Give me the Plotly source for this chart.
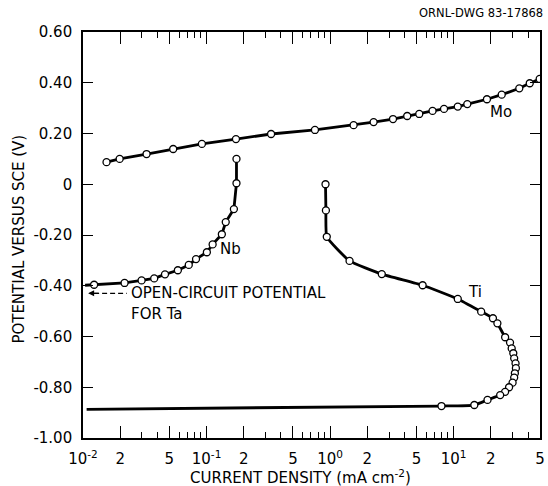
import numpy as np
import plotly.graph_objects as go

# ---- data (current density in mA/cm^2, potential in V vs SCE) ----
mo_i = [0.0155, 0.0198, 0.0327, 0.0537, 0.0917, 0.173, 0.333, 0.754, 1.55, 2.25,
        3.23, 4.21, 5.27, 6.75, 8.36, 10.8, 12.9, 18.6, 24.5, 34.0, 41.3, 49.7]
mo_v = [0.087, 0.100, 0.119, 0.139, 0.159, 0.178, 0.198, 0.214, 0.233, 0.245,
        0.257, 0.269, 0.277, 0.289, 0.297, 0.306, 0.316, 0.335, 0.353, 0.378, 0.398, 0.415]

nb_i = [0.0123, 0.0217, 0.0298, 0.0377, 0.0461, 0.0586, 0.0718, 0.0822, 0.1006,
        0.112, 0.133, 0.143, 0.1665, 0.1747, 0.1747]
nb_v = [-0.396, -0.389, -0.379, -0.371, -0.355, -0.339, -0.318, -0.295, -0.268,
        -0.237, -0.197, -0.149, -0.098, 0.004, 0.100]
nb_line_start_i = [0.0104]
nb_line_start_v = [-0.398]

ti_i = [0.918, 0.925, 0.94, 1.437, 2.62, 5.61, 10.8, 16.7, 20.8, 22.6, 26.1, 28.6,
        29.5, 30.4, 30.9, 31.7, 31.9, 31.3, 30.9, 30.0, 28.1, 26.1, 23.8, 18.8, 14.7, 7.97]
ti_v = [0.000, -0.103, -0.207, -0.302, -0.354, -0.398, -0.452, -0.502, -0.528, -0.548,
        -0.603, -0.624, -0.647, -0.666, -0.686, -0.706, -0.725, -0.745, -0.762, -0.782,
        -0.800, -0.818, -0.831, -0.850, -0.870, -0.874]
ti_tail_i = [0.0107]          # unmarked continuation of the Ti curve to the left
ti_tail_v = [-0.887]

ta_ocp_v = -0.430            # open-circuit potential for Ta

x_tickvals = [0.01, 0.02, 0.05, 0.1, 0.2, 0.5, 1, 2, 5, 10, 20, 50]
x_ticktext = ["10<sup>-2</sup>", "2", "5", "10<sup>-1</sup>", "2", "5",
              "10<sup>0</sup>", "2", "5", "10<sup>1</sup>", "2", "5"]
x_minorvals = [m * d for d in (0.01, 0.1, 1, 10) for m in (3, 4, 6, 7, 8, 9) if m * d < 50]
y_tickvals = [0.6, 0.4, 0.2, 0.0, -0.2, -0.4, -0.6, -0.8, -1.0]
y_ticktext = ["0.60", "0.40", "0.20", "0", "-0.20", "-0.40", "-0.60", "-0.80", "-1.00"]

FONT = "DejaVu Sans, Verdana, sans-serif"
LW = 2.8
marker = dict(symbol="circle", size=7, color="white", line=dict(color="black", width=1.3))

fig = go.Figure()
# Mo
fig.add_trace(go.Scatter(x=mo_i, y=mo_v, mode="lines+markers",
                         line=dict(color="black", width=LW), marker=marker))
# Nb
fig.add_trace(go.Scatter(x=nb_line_start_i + nb_i, y=nb_line_start_v + nb_v, mode="lines",
                         line=dict(color="black", width=LW)))
fig.add_trace(go.Scatter(x=nb_i, y=nb_v, mode="markers", marker=marker))
# Ti
fig.add_trace(go.Scatter(x=ti_i + ti_tail_i, y=ti_v + ti_tail_v, mode="lines",
                         line=dict(color="black", width=LW, shape="spline", smoothing=0.4)))
fig.add_trace(go.Scatter(x=ti_i, y=ti_v, mode="markers", marker=marker))

ann_font = dict(family=FONT, size=15, color="black")
annotations = [
    dict(x=np.log10(24.0), y=0.285, text="Mo", showarrow=False, font=ann_font),
    dict(x=np.log10(0.157), y=-0.255, text="Nb", showarrow=False, font=ann_font),
    dict(x=np.log10(15.0), y=-0.426, text="Ti", showarrow=False, font=ann_font),
    dict(x=np.log10(0.0236), y=ta_ocp_v, text="OPEN-CIRCUIT POTENTIAL", showarrow=False,
         xanchor="left", yanchor="middle", font=ann_font),
    dict(x=np.log10(0.0236), y=ta_ocp_v - 0.083, text="FOR Ta", showarrow=False,
         xanchor="left", yanchor="middle", font=ann_font),
    # arrow head
    dict(x=np.log10(0.0110), y=ta_ocp_v, ax=12, ay=0, axref="pixel", ayref="pixel",
         text="", showarrow=True, arrowhead=2, arrowsize=1, arrowwidth=1.2, arrowcolor="black"),
    dict(xref="paper", yref="paper", x=1.0, y=1.0, yshift=19, xshift=5, xanchor="right",
         yanchor="middle", text="ORNL-DWG 83-17868", showarrow=False,
         font=dict(family=FONT, size=11.5, color="black")),
    dict(xref="paper", yref="paper", x=0.475, y=-0.096, xanchor="center", yanchor="middle",
         text="CURRENT DENSITY (mA cm<sup>-2</sup>)", showarrow=False, font=ann_font),
    dict(xref="paper", yref="paper", x=-0.141, y=0.49, xanchor="center", yanchor="middle",
         text="POTENTIAL VERSUS SCE (V)", textangle=-90, showarrow=False, font=ann_font),
]
fig.update_layout(annotations=annotations)

fig.add_shape(type="line", xref="x", yref="y", x0=0.0123, x1=0.0226, y0=ta_ocp_v, y1=ta_ocp_v,
              line=dict(color="black", width=1.2, dash="5px,3px"))

fig.update_xaxes(type="log", range=[-2, np.log10(50)], tickmode="array",
                 tickvals=x_tickvals, ticktext=x_ticktext, ticks="inside", ticklen=12,
                 tickwidth=1.2, tickcolor="black", showline=True, linecolor="black",
                 linewidth=1.6, mirror="ticks", showgrid=False, zeroline=False,
                 tickfont=dict(family=FONT, size=15, color="black"), ticklabelstandoff=6,
                 minor=dict(tickvals=x_minorvals, ticks="inside", ticklen=6, tickwidth=1.2,
                            tickcolor="black", showgrid=False))
fig.update_yaxes(range=[-1.0, 0.6], tickmode="array", tickvals=y_tickvals, ticktext=y_ticktext,
                 ticks="inside", ticklen=10, tickwidth=1.2, tickcolor="black", showline=True,
                 linecolor="black", linewidth=1.6, mirror="ticks", showgrid=False,
                 zeroline=False, tickfont=dict(family=FONT, size=15, color="black"),
                 ticklabelstandoff=6)

fig.update_layout(width=548, height=486, margin=dict(l=83, r=3, t=32, b=48),
                  paper_bgcolor="white", plot_bgcolor="white", showlegend=False,
                  font=dict(family=FONT, color="black"))

fig.write_html("out.html")
